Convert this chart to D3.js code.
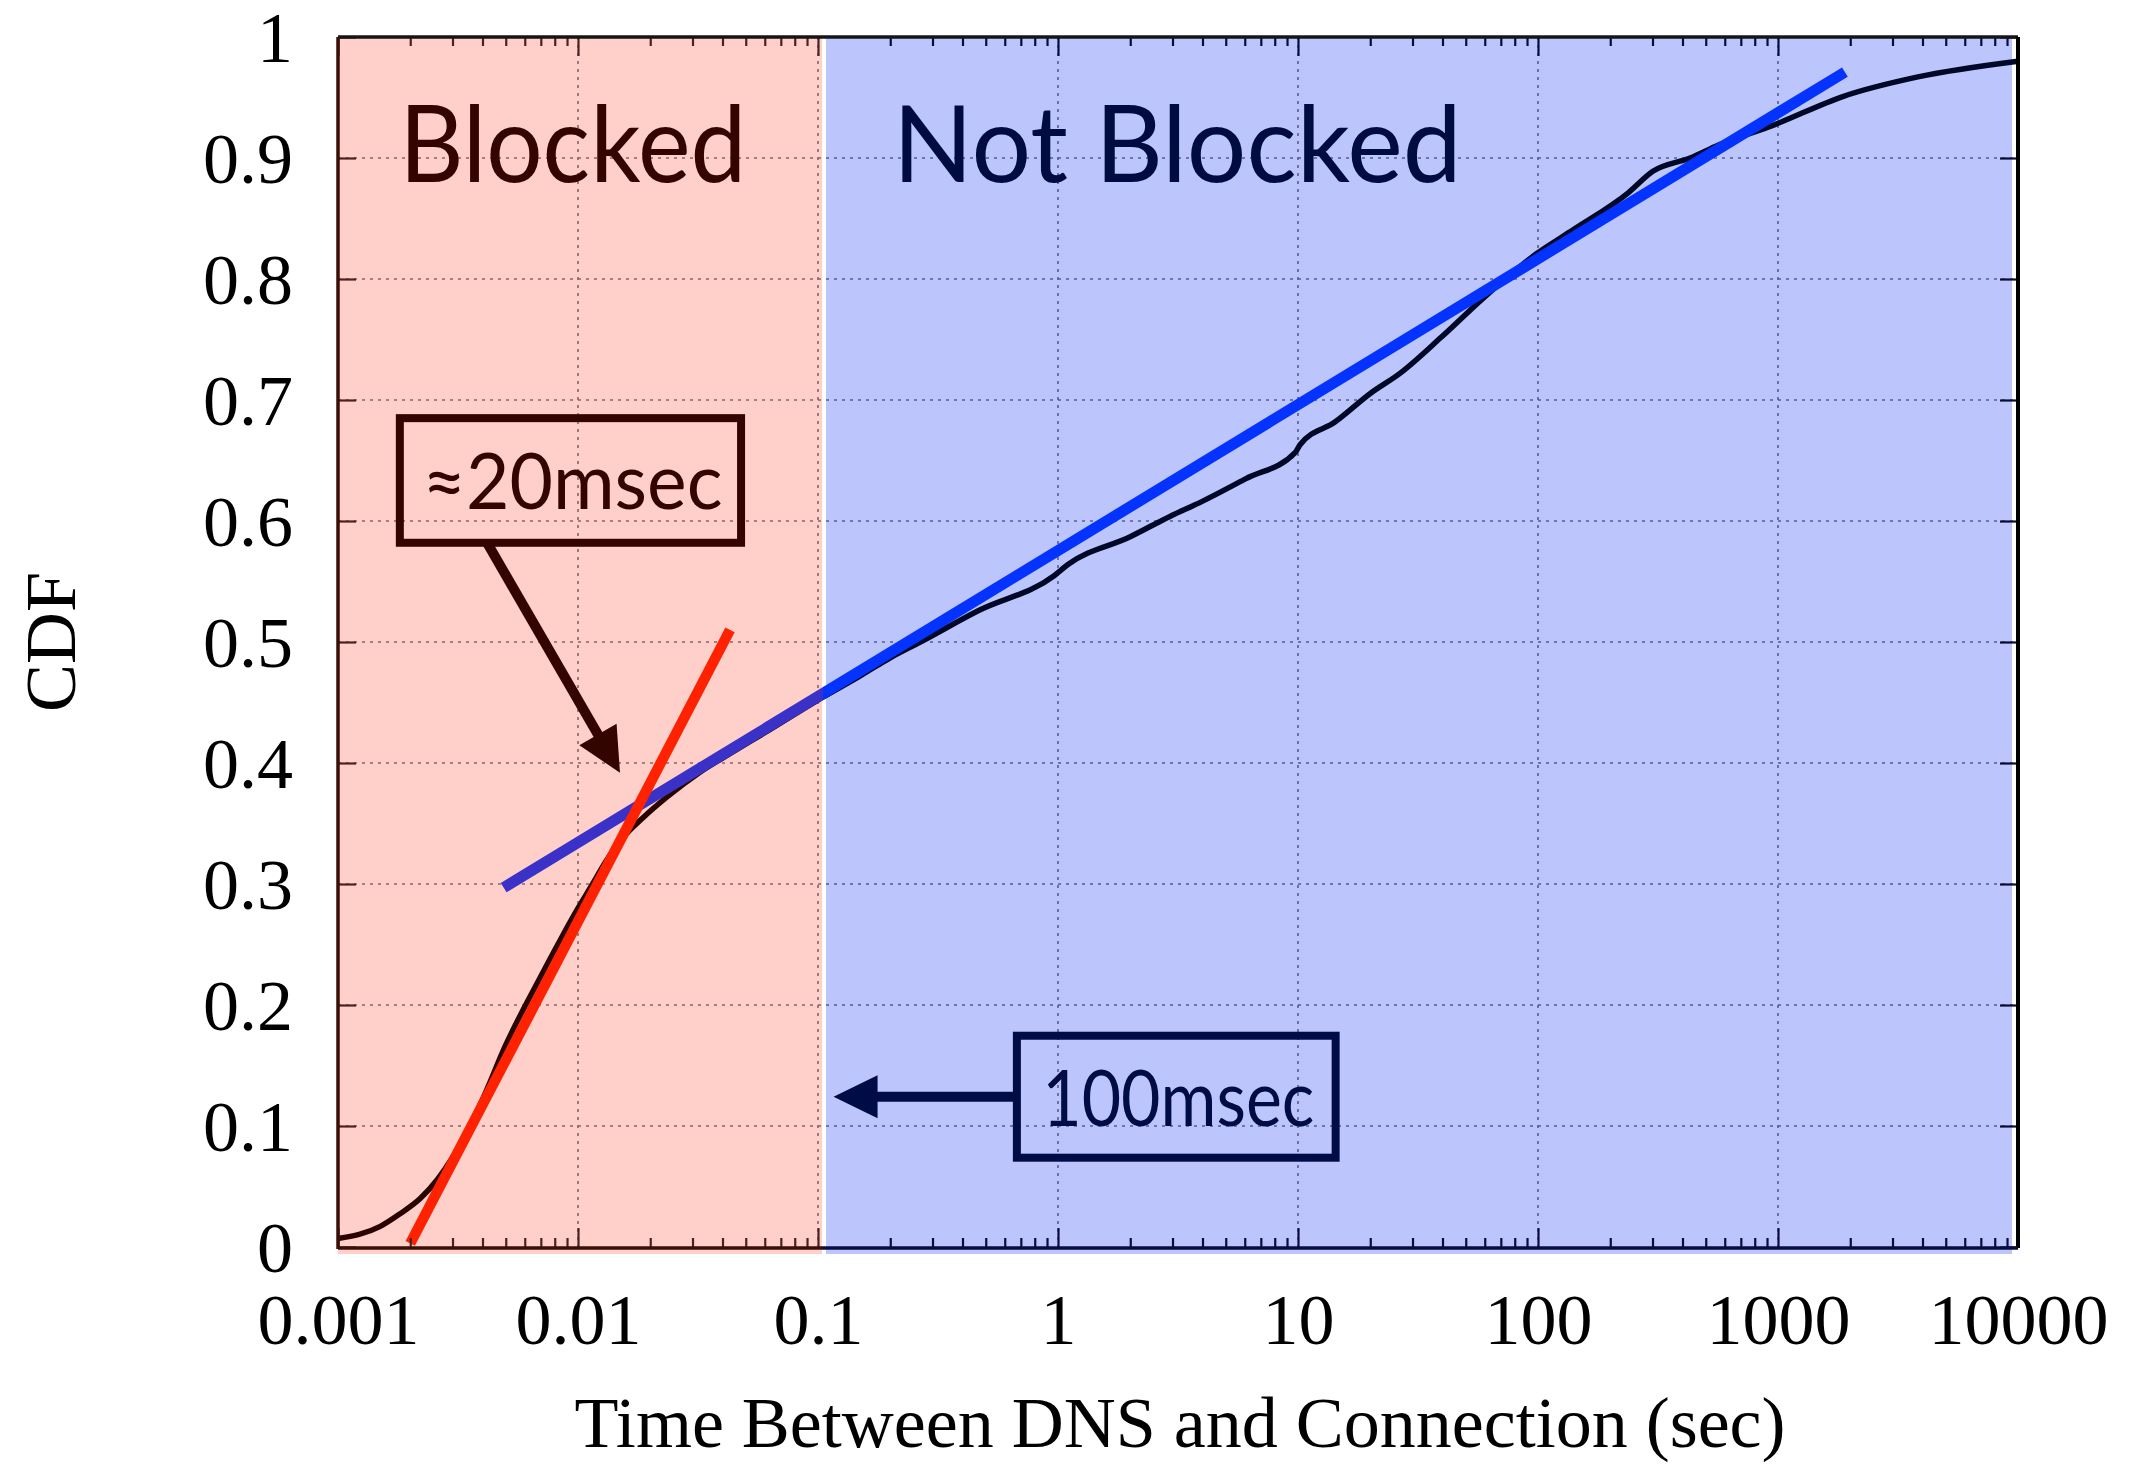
<!DOCTYPE html>
<html><head><meta charset="utf-8">
<script src="https://cdn.jsdelivr.net/npm/d3@7"></script>
<style>body{margin:0;background:#fff}svg{display:block}</style>
</head><body>
<svg id="c" width="2138" height="1465"></svg>
<script>
// ---- data ----
const cdfX = [0.001, 0.0015, 0.0018, 0.0022, 0.0026, 0.003, 0.004, 0.005, 0.0068, 0.0085, 0.01, 0.0115, 0.013, 0.0155, 0.0187, 0.0235, 0.032, 0.044, 0.06, 0.1, 0.15, 0.2, 0.267, 0.467, 0.967, 1.1, 2.0, 2.94, 3.97, 6.07, 9.77, 10.2, 14.3, 20.2, 26.6, 39.6, 59, 98.8, 141, 237, 301, 430, 568, 953, 1875, 3830, 10000];
const cdfY = [0.007, 0.017, 0.027, 0.040, 0.056, 0.074, 0.122, 0.167, 0.219, 0.255, 0.280, 0.300, 0.318, 0.339, 0.355, 0.372, 0.392, 0.409, 0.425, 0.452, 0.472, 0.487, 0.500, 0.526, 0.555, 0.564, 0.587, 0.604, 0.616, 0.635, 0.657, 0.663, 0.682, 0.706, 0.722, 0.752, 0.784, 0.821, 0.841, 0.871, 0.889, 0.900, 0.911, 0.927, 0.951, 0.967, 0.980];
const redFitX = [0.002, 0.043];
const redFitY = [0.003, 0.51];
const blueFitX = [0.0049, 1900];
const blueFitY = [0.297, 0.971];
const xTicks = [0.001, 0.01, 0.1, 1, 10, 100, 1000, 10000];
const xTickLabels = ["0.001", "0.01", "0.1", "1", "10", "100", "1000", "10000"];
const yTicks = [0, 0.1, 0.2, 0.3, 0.4, 0.5, 0.6, 0.7, 0.8, 0.9, 1];
const yTickLabels = ["0", "0.1", "0.2", "0.3", "0.4", "0.5", "0.6", "0.7", "0.8", "0.9", "1"];
const splitX = 0.1;
const regionLabels = ["Blocked", "Not Blocked"];
const regionLabelX = [0.0018, 0.205];
const regionLabelY = 0.88;
const xTitle = "Time Between DNS and Connection (sec)";
const yTitle = "CDF";
const annLabels = ["\u224820msec", "100msec"];
const annBoxX = [[0.00181, 0.0478], [0.674, 14.35]];
const annBoxY = [[0.582, 0.685], [0.0738, 0.1746]];
const annFrom = [[0.00418, 0.582], [0.674, 0.1242]];
const annTo = [[0.01496, 0.392], [0.1161, 0.1242]];

// ---- layout ----
const W = 2138, H = 1465;
const m = {l: 338, r: 2018, t: 37, b: 1247};
const x = d3.scaleLog().domain([0.001, 10000]).range([m.l, m.r]);
const y = d3.scaleLinear().domain([0, 1]).range([m.b, m.t]);
const svg = d3.select("#c");
const pinkFill = "#FFD0CA", blueFill = "#BCC6FD";
const brown = "#330500", navy = "#000B40";
const sx = x(splitX);

const defs = svg.append("defs");
defs.append("clipPath").attr("id", "cp").append("rect").attr("x", 0).attr("y", 0).attr("width", sx + 5).attr("height", H);
defs.append("clipPath").attr("id", "cb").append("rect").attr("x", sx + 5).attr("y", 0).attr("width", W).attr("height", H);

svg.append("rect").attr("x", m.l).attr("y", m.t).attr("width", sx + 4 - m.l).attr("height", m.b + 7 - m.t).attr("fill", pinkFill);
svg.append("rect").attr("x", sx + 8).attr("y", m.t).attr("width", m.r - 6 - sx - 8).attr("height", m.b + 7 - m.t).attr("fill", blueFill);

function grid(clip, col) {
  const g = svg.append("g").attr("clip-path", `url(#${clip})`).attr("stroke", col).attr("stroke-width", 1.6).attr("stroke-dasharray", "3,5");
  g.selectAll("line.v").data(xTicks.slice(1, -1)).join("line").attr("x1", d => x(d)).attr("x2", d => x(d)).attr("y1", m.t).attr("y2", m.b);
  g.selectAll("line.h").data(yTicks.slice(1, -1)).join("line").attr("x1", m.l).attr("x2", m.r).attr("y1", d => y(d)).attr("y2", d => y(d));
}
grid("cp", "#8a6464");
grid("cb", "#5a5c88");

regionLabels.forEach((t, i) => {
  svg.append("text").attr("x", x(regionLabelX[i])).attr("y", y(regionLabelY))
    .attr("font-family", "Lato").attr("font-size", 107)
    .attr("textLength", i === 0 ? 347 : 569).attr("lengthAdjust", "spacingAndGlyphs")
    .attr("fill", i === 0 ? brown : navy).text(t);
});

const line = d3.line().x(d => x(d[0])).y(d => y(d[1])).curve(d3.curveMonotoneX);
const cdf = cdfX.map((v, i) => [v, cdfY[i]]);
const blueFit = blueFitX.map((v, i) => [v, blueFitY[i]]);
const redFit = redFitX.map((v, i) => [v, redFitY[i]]);
const straight = d3.line().x(d => x(d[0])).y(d => y(d[1]));

svg.append("path").attr("clip-path", "url(#cp)").attr("d", line(cdf)).attr("fill", "none").attr("stroke", "#2a0400").attr("stroke-width", 5.5).attr("stroke-linejoin", "round");
svg.append("path").attr("clip-path", "url(#cb)").attr("d", line(cdf)).attr("fill", "none").attr("stroke", "#000828").attr("stroke-width", 5.5).attr("stroke-linejoin", "round");
svg.append("path").attr("clip-path", "url(#cp)").attr("d", straight(blueFit)).attr("fill", "none").attr("stroke", "#3A32C8").attr("stroke-width", 11);
svg.append("path").attr("clip-path", "url(#cb)").attr("d", straight(blueFit)).attr("fill", "none").attr("stroke", "#0433FF").attr("stroke-width", 11);
svg.append("path").attr("d", straight(redFit)).attr("fill", "none").attr("stroke", "#FF2200").attr("stroke-width", 10.5);

function arrow(g, x0, y0, x1, y1, color, shaftW, headL, headW) {
  const dx = x1 - x0, dy = y1 - y0, L = Math.hypot(dx, dy), ux = dx / L, uy = dy / L, px = -uy, py = ux;
  const bx = x1 - ux * headL, by = y1 - uy * headL;
  g.append("line").attr("x1", x0).attr("y1", y0).attr("x2", bx + ux * 2).attr("y2", by + uy * 2).attr("stroke", color).attr("stroke-width", shaftW);
  g.append("path").attr("d", `M${x1},${y1}L${bx + px * headW},${by + py * headW}L${bx - px * headW},${by - py * headW}Z`).attr("fill", color);
}
annLabels.forEach((t, i) => {
  const col = i === 0 ? brown : "#000C45";
  const g = svg.append("g");
  const bx0 = x(annBoxX[i][0]), bx1 = x(annBoxX[i][1]), by0 = y(annBoxY[i][1]), by1 = y(annBoxY[i][0]);
  arrow(g, x(annFrom[i][0]), y(annFrom[i][1]), x(annTo[i][0]), y(annTo[i][1]), col, 10, 44, 21.5);
  g.append("rect").attr("x", bx0).attr("y", by0).attr("width", bx1 - bx0).attr("height", by1 - by0)
    .attr("fill", "none").attr("stroke", col).attr("stroke-width", 8);
  g.append("text").attr("x", (bx0 + bx1) / 2 + 2).attr("y", (by0 + by1) / 2 + 29)
    .attr("text-anchor", "middle").attr("font-family", "Lato").attr("font-size", 77)
    .attr("textLength", i === 0 ? 300 : 272).attr("lengthAdjust", "spacingAndGlyphs")
    .attr("fill", col).text(t);
});

const minor = [];
for (let d = 0.001; d < 9999; d *= 10) for (let k = 2; k <= 9; k++) minor.push(+(d * k).toPrecision(3));
const tickCol = v => v <= 0.10001 ? "#4a2222" : "#0a0c40";
const yTickCol = "#4a2222";

function styleTicks(g, colFn) {
  g.select(".domain").remove();
  g.selectAll(".tick line").attr("stroke", d => colFn(d)).attr("stroke-width", 2.2);
}
let g;
g = svg.append("g").attr("transform", `translate(0,${m.b})`)
  .call(d3.axisBottom(x).tickValues(xTicks).tickSize(-19).tickPadding(46).tickFormat((d, i) => xTickLabels[i]));
styleTicks(g, tickCol);
g.selectAll("text").attr("font-family", "Liberation Serif").attr("font-size", 72).attr("fill", "#000");
g = svg.append("g").attr("transform", `translate(0,${m.b})`).call(d3.axisBottom(x).tickValues(minor).tickSize(-9).tickFormat(""));
styleTicks(g, tickCol);
g = svg.append("g").attr("transform", `translate(0,${m.t})`).call(d3.axisTop(x).tickValues(xTicks).tickSize(-19).tickFormat(""));
styleTicks(g, tickCol);
g = svg.append("g").attr("transform", `translate(0,${m.t})`).call(d3.axisTop(x).tickValues(minor).tickSize(-9).tickFormat(""));
styleTicks(g, tickCol);
g = svg.append("g").attr("transform", `translate(${m.l},0)`)
  .call(d3.axisLeft(y).tickValues(yTicks).tickSize(-18).tickPadding(45).tickFormat((d, i) => yTickLabels[i]));
styleTicks(g, () => yTickCol);
g.selectAll("text").attr("font-family", "Liberation Serif").attr("font-size", 72).attr("fill", "#000").attr("dy", "0.34em");
g = svg.append("g").attr("transform", `translate(${m.r},0)`).call(d3.axisRight(y).tickValues(yTicks).tickSize(-18).tickFormat(""));
styleTicks(g, () => "#0a0c30");

svg.append("line").attr("x1", m.l).attr("x2", m.r).attr("y1", m.t).attr("y2", m.t).attr("stroke", "#151515").attr("stroke-width", 3.5);
svg.append("line").attr("x1", m.r).attr("x2", m.r).attr("y1", m.t).attr("y2", m.b + 1).attr("stroke", "#000").attr("stroke-width", 4);
svg.append("line").attr("x1", m.l).attr("x2", sx + 4).attr("y1", m.b + 1).attr("y2", m.b + 1).attr("stroke", "#3a0f08").attr("stroke-width", 3.5);
svg.append("line").attr("x1", sx + 4).attr("x2", m.r).attr("y1", m.b + 1).attr("y2", m.b + 1).attr("stroke", "#0a0c40").attr("stroke-width", 3.5);
svg.append("line").attr("x1", m.l).attr("x2", m.l).attr("y1", m.t).attr("y2", m.b + 2).attr("stroke", "#3a0f08").attr("stroke-width", 3.5);

svg.append("text").attr("x", (m.l + m.r) / 2 + 2).attr("y", 1447).attr("text-anchor", "middle")
  .attr("font-family", "Liberation Serif").attr("font-size", 72).attr("fill", "#000").text(xTitle);
svg.append("text").attr("transform", `translate(75,${(m.t + m.b) / 2}) rotate(-90)`).attr("text-anchor", "middle")
  .attr("font-family", "Liberation Serif").attr("font-size", 72).attr("fill", "#000").text(yTitle);
</script>
</body></html>
